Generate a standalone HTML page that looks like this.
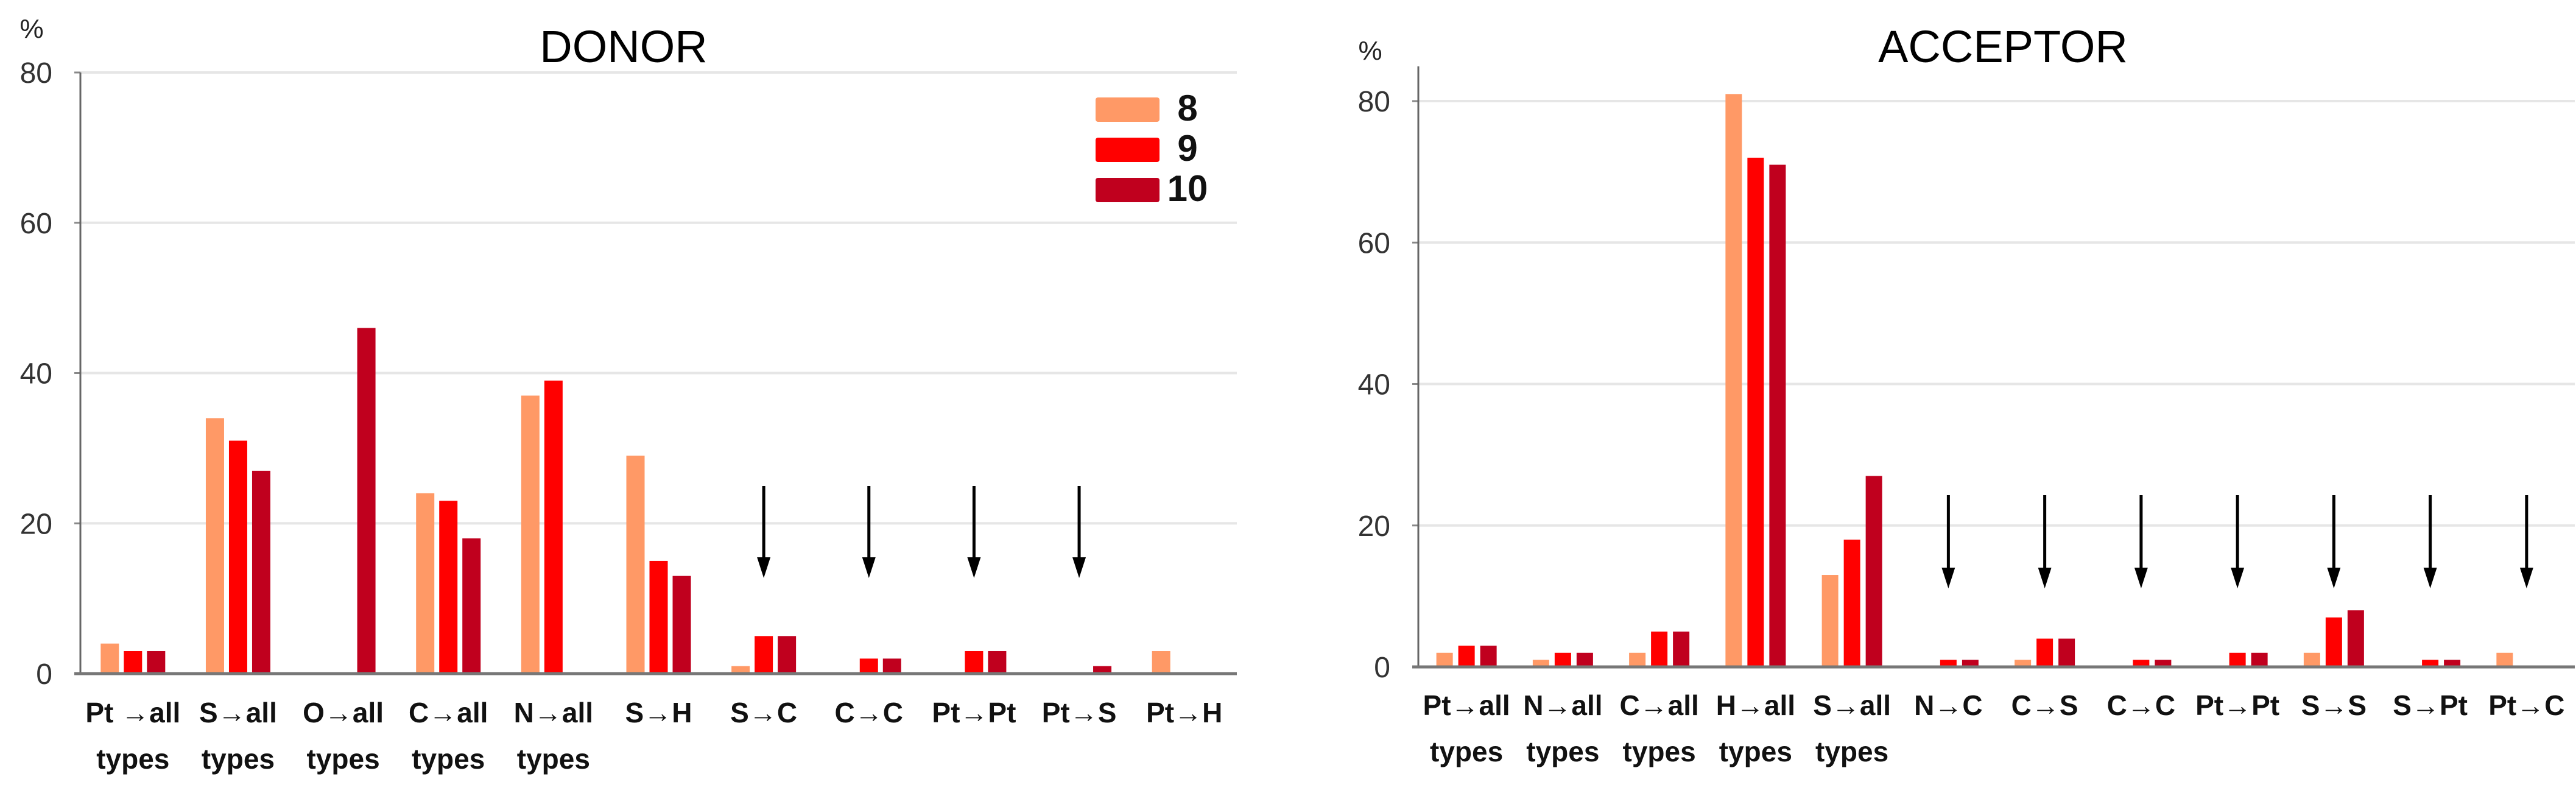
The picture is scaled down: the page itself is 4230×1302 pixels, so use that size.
<!DOCTYPE html>
<html><head><meta charset="utf-8"><style>
html,body{margin:0;padding:0;background:#fff}
svg{display:block}
text{font-family:"Liberation Sans",sans-serif}
</style></head><body>
<svg id="chart" width="4230" height="1302" viewBox="0 0 4230 1302" xmlns="http://www.w3.org/2000/svg"></svg>
<script>
const donorCategories = [["Pt →all","types"],["S→all","types"],["O→all","types"],["C→all","types"],["N→all","types"],["S→H"],["S→C"],["C→C"],["Pt→Pt"],["Pt→S"],["Pt→H"]];
const donor8 = [4,34,0,24,37,29,1,0,0,0,3];
const donor9 = [3,31,0,23,39,15,5,2,3,0,0];
const donor10 = [3,27,46,18,0,13,5,2,3,1,0];
const donorArrows = [6,7,8,9];
const acceptorCategories = [["Pt→all","types"],["N→all","types"],["C→all","types"],["H→all","types"],["S→all","types"],["N→C"],["C→S"],["C→C"],["Pt→Pt"],["S→S"],["S→Pt"],["Pt→C"]];
const acceptor8 = [2,1,2,81,13,0,1,0,0,2,0,2];
const acceptor9 = [3,2,5,72,18,1,4,1,2,7,1,0];
const acceptor10 = [3,2,5,71,27,1,4,1,2,8,1,0];
const acceptorArrows = [5,6,7,8,9,10,11];
const yTicks = [0,20,40,60,80];
const seriesNames = ["8","9","10"];
const colors = ["#FF9966","#FF0000","#C0001E"];

const NS="http://www.w3.org/2000/svg";
const svg=document.getElementById('chart');
function mk(tag,attrs,parent,txt){const e=document.createElementNS(NS,tag);for(const k in attrs)e.setAttribute(k,attrs[k]);if(txt!==undefined)e.textContent=txt;(parent||svg).appendChild(e);return e;}

function drawChart(o){
  const g=mk('g',{});
  
  
  const y=v=>o.y0-(o.y0-o.y80)*v/80;
  const cw=(o.x1-o.x0)/o.cats.length;
  const cx=i=>o.x0+cw*(i+0.5);
  yTicks.forEach(t=>{
    if(t>0){const gl=mk('line',{x1:o.x0,x2:o.x1,y1:y(t),y2:y(t),stroke:'#e6e6e6','stroke-width':4},g);
      
      }
    const tl=mk('text',{x:o.tickX,y:y(t)+17,'text-anchor':'end','font-size':48,fill:'#333'},g,String(t));
    
    
    mk('line',{x1:o.x0-10,x2:o.x0,y1:y(t),y2:y(t),stroke:'#888','stroke-width':3},g);
  });
  const ya=mk('line',{x1:o.x0,x2:o.x0,y1:o.axisTop,y2:o.y0,stroke:'#666','stroke-width':3},g);
  
  
  const series=[o.s8,o.s9,o.s10];
  series.forEach((s,si)=>{
    s.forEach((v,i)=>{
      if(v<=0)return;
      const bx=cx(i)+(si-1)*o.step-o.bw/2;
      const r=mk('rect',{x:bx,y:y(v),width:o.bw,height:o.y0-y(v),fill:colors[si]},g);
      
      
    });
  });
  const xa=mk('line',{x1:o.x0-10,x2:o.x1,y1:o.y0,y2:o.y0,stroke:'#777','stroke-width':5},g);
  
  
  o.cats.forEach((c,i)=>{
    c.forEach((ln,li)=>{
      const t=mk('text',{x:cx(i),y:o.labY+li*76,'text-anchor':'middle','font-size':46,'font-weight':'bold',fill:'#111'},g,ln);
      
      
    });
  });
  o.arrows.forEach(i=>{
    const a=mk('g',{},g);
    
    
    mk('line',{x1:cx(i),x2:cx(i),y1:o.arT,y2:o.arB-30,stroke:'#000','stroke-width':5},a);
    mk('polygon',{points:`${cx(i)-11},${o.arB-34} ${cx(i)+11},${o.arB-34} ${cx(i)},${o.arB}`,fill:'#000'},a);
  });
  const ti=mk('text',{x:o.titleX,y:102,'text-anchor':'middle','font-size':74,fill:'#000'},g,o.title);
  
  
  const pc=mk('text',{x:o.pctX,y:o.pctY,'text-anchor':'middle','font-size':44,fill:'#222'},g,'%');
  
  
}

drawChart({name:'donor-chart',title:'DONOR',cats:donorCategories,s8:donor8,s9:donor9,s10:donor10,arrows:donorArrows,
  x0:132,x1:2031,y0:1106,y80:119,axisTop:119,tickX:86,bw:30,step:38,labY:1186,arT:798,arB:949,titleX:1024,pctX:52,pctY:62});
drawChart({name:'acceptor-chart',title:'ACCEPTOR',cats:acceptorCategories,s8:acceptor8,s9:acceptor9,s10:acceptor10,arrows:acceptorArrows,
  x0:2329,x1:4228,y0:1095,y80:166,axisTop:109,tickX:2283,bw:27,step:36,labY:1174,arT:813,arB:966,titleX:3289,pctX:2250,pctY:98});

// legend
const lg=mk('g',{});


seriesNames.forEach((n,i)=>{
  const e=mk('g',{},lg);
  
  
  mk('rect',{x:1799,y:160+i*66,width:105,height:40,rx:4,fill:colors[i]},e);
  mk('text',{x:1950,y:198+i*66,'text-anchor':'middle','font-size':60,'font-weight':'bold',fill:'#111'},e,n);
});
</script>
</body></html>
